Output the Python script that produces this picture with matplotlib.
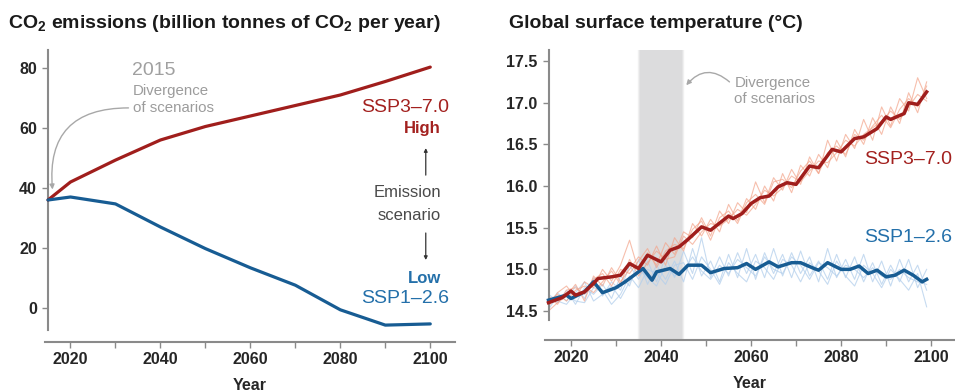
import matplotlib
matplotlib.use("Agg")
import matplotlib.pyplot as plt

plt.rcParams['font.family'] = ['Liberation Sans', 'DejaVu Sans']
plt.rcParams['mathtext.fontset'] = 'custom'
plt.rcParams['mathtext.rm'] = 'Liberation Sans'
plt.rcParams['mathtext.bf'] = 'Liberation Sans:bold'

# ---------------- data: CO2 emissions ----------------
co2_years = [2015, 2020, 2030, 2040, 2050, 2060, 2070, 2080, 2090, 2100]
co2_high = [36.0, 42.0, 49.3, 56.0, 60.5, 64.0, 67.5, 71.0, 75.5, 80.3]
co2_low = [36.0, 37.0, 34.7, 27.0, 19.8, 13.4, 7.6, -0.6, -5.7, -5.3]

# ---------------- data: temperature (thick ensemble means) ----------------
t_high_years = [2015, 2018, 2020, 2021, 2023, 2025, 2026, 2029, 2031, 2033, 2035,
                2037, 2040, 2042, 2044, 2046, 2049, 2051, 2055, 2056, 2058, 2060,
                2062, 2064, 2066, 2068, 2070, 2073, 2075, 2078, 2080, 2083, 2085,
                2088, 2090, 2091, 2094, 2095, 2097, 2099]
t_high = [14.60, 14.66, 14.74, 14.69, 14.73, 14.83, 14.89, 14.91, 14.93, 15.07, 15.01,
          15.17, 15.09, 15.23, 15.27, 15.36, 15.51, 15.47, 15.64, 15.61, 15.67, 15.79,
          15.86, 15.88, 15.99, 16.04, 16.02, 16.24, 16.22, 16.44, 16.41, 16.57, 16.59,
          16.69, 16.83, 16.80, 16.87, 17.00, 16.98, 17.13]

t_low_years = [2015, 2019, 2020, 2023, 2025, 2027, 2030, 2032, 2036, 2038, 2039,
               2042, 2044, 2046, 2049, 2051, 2054, 2057, 2059, 2061, 2064, 2066,
               2069, 2071, 2074, 2075, 2077, 2080, 2082, 2084, 2086, 2088, 2090,
               2092, 2094, 2096, 2098, 2099]
t_low = [14.63, 14.69, 14.65, 14.73, 14.85, 14.72, 14.78, 14.85, 15.01, 14.87, 14.97,
         15.01, 14.94, 15.05, 15.05, 14.96, 15.01, 15.02, 15.07, 15.00, 15.09, 15.03,
         15.08, 15.08, 15.01, 14.99, 15.08, 15.00, 15.00, 15.04, 14.95, 14.99, 14.91,
         14.93, 14.99, 14.93, 14.85, 14.88]

# ---------------- data: individual model runs (thin) ----------------
run_years = list(range(2015, 2100, 2))
high_runs = [
    [14.55, 14.72, 14.80, 14.66, 14.85, 14.78, 15.00, 14.86, 15.05, 15.35, 14.98, 15.20, 15.05, 15.32,
     15.18, 15.45, 15.38, 15.62, 15.40, 15.70, 15.55, 15.80, 15.68, 16.05, 15.80, 16.10, 15.95, 16.20,
     16.02, 16.35, 16.15, 16.55, 16.30, 16.62, 16.45, 16.80, 16.55, 16.95, 16.72, 17.05, 16.90, 17.30, 17.05],
    [14.50, 14.60, 14.68, 14.82, 14.62, 14.92, 14.80, 15.02, 14.85, 15.00, 15.15, 15.05, 15.28, 15.05,
     15.38, 15.22, 15.55, 15.40, 15.60, 15.45, 15.78, 15.58, 15.85, 15.72, 16.00, 15.82, 16.15, 15.92,
     16.25, 16.12, 16.38, 16.22, 16.55, 16.35, 16.68, 16.50, 16.82, 16.62, 16.95, 16.75, 17.12, 16.88, 17.25],
    [14.68, 14.58, 14.75, 14.78, 14.70, 14.88, 14.95, 14.80, 15.00, 14.95, 15.10, 15.25, 15.02, 15.22,
     15.30, 15.25, 15.48, 15.58, 15.35, 15.62, 15.70, 15.55, 15.80, 15.90, 15.78, 16.05, 16.08, 15.98,
     16.18, 16.30, 16.15, 16.40, 16.48, 16.38, 16.62, 16.55, 16.72, 16.85, 16.70, 16.92, 17.05, 16.95, 17.20],
    [14.62, 14.70, 14.62, 14.75, 14.80, 14.72, 14.85, 14.98, 14.82, 15.12, 14.92, 15.08, 15.22, 15.12,
     15.15, 15.40, 15.30, 15.45, 15.55, 15.52, 15.60, 15.72, 15.65, 15.78, 15.95, 15.88, 15.98, 16.12,
     16.05, 16.18, 16.30, 16.28, 16.40, 16.55, 16.48, 16.62, 16.70, 16.78, 16.90, 16.80, 16.95, 17.10, 17.02],
]
low_runs = [
    [14.58, 14.72, 14.62, 14.80, 14.65, 14.90, 14.68, 14.85, 14.75, 15.05, 14.88, 15.10, 14.85, 15.15,
     14.90, 15.22, 14.95, 15.38, 14.90, 15.15, 14.92, 15.20, 14.95, 15.18, 14.90, 15.25, 14.92, 15.20,
     14.95, 15.15, 14.85, 15.25, 14.90, 15.12, 14.88, 15.18, 14.85, 15.10, 14.80, 15.12, 14.85, 15.05, 14.75],
    [14.66, 14.60, 14.75, 14.58, 14.78, 14.70, 14.82, 14.65, 14.92, 14.80, 15.12, 14.82, 15.05, 14.88,
     15.10, 14.85, 15.25, 14.92, 15.10, 14.85, 15.18, 14.90, 15.25, 14.88, 15.20, 14.95, 15.18, 14.90,
     15.22, 14.92, 15.10, 14.88, 15.18, 14.90, 15.15, 14.85, 15.08, 14.82, 15.05, 14.85, 15.12, 14.78, 15.00],
    [14.52, 14.68, 14.70, 14.62, 14.60, 14.78, 14.75, 14.58, 14.70, 14.92, 14.78, 15.00, 14.95, 14.82,
     15.05, 15.08, 14.88, 15.15, 15.00, 14.82, 15.08, 14.95, 14.85, 15.10, 15.02, 14.88, 15.12, 15.05,
     14.85, 15.08, 14.98, 14.82, 15.10, 14.92, 14.80, 15.05, 14.95, 14.78, 15.00, 14.88, 14.75, 14.95, 14.55],
    [14.70, 14.62, 14.58, 14.72, 14.85, 14.62, 14.70, 14.80, 14.65, 14.85, 15.00, 14.90, 14.80, 15.05,
     14.92, 14.98, 15.15, 14.98, 14.88, 15.05, 14.95, 15.12, 15.02, 14.92, 15.15, 15.00, 14.95, 15.15,
     15.05, 14.88, 15.08, 15.02, 14.92, 15.05, 15.00, 14.90, 15.02, 14.92, 14.88, 15.00, 14.90, 14.85, 14.82],
]

x_ticks = [2020, 2040, 2060, 2080, 2100]
x_minor = [2030, 2050, 2070, 2090]
co2_yticks = [0, 20, 40, 60, 80]
temp_yticks = [14.5, 15.0, 15.5, 16.0, 16.5, 17.0, 17.5]
divergence_span = (2035, 2045)

RED = '#a01e1c'
BLUE = '#175c93'
RED_TXT = '#a3211f'
BLUE_TXT = '#2470aa'
RED_THIN = '#f3a48a'
BLUE_THIN = '#b3cfec'
GRAY_TXT = '#9c9c9c'
SPINE = '#8a8a8a'
TICKLAB = '#262626'
BAND = '#dcdcdd'

W, H = 955, 391
fig = plt.figure(figsize=(W / 100, H / 100), dpi=100)


def px_axes(x0, y0, x1, y1):
    return fig.add_axes([x0 / W, 1 - y1 / H, (x1 - x0) / W, (y1 - y0) / H])


def style_axes(ax, ybounds):
    for s in ['top', 'right']:
        ax.spines[s].set_visible(False)
    ax.spines['left'].set_position(('data', 2015))
    ax.spines['left'].set_bounds(*ybounds)
    for s in ['left', 'bottom']:
        ax.spines[s].set_color(SPINE)
        ax.spines[s].set_linewidth(1.5)
    ax.set_xticks(x_ticks)
    ax.set_xticks(x_minor, minor=True)
    ax.tick_params(axis='both', which='both', color=SPINE, width=1.0,
                   labelcolor=TICKLAB, labelsize=11.5)
    ax.tick_params(axis='x', which='major', length=4, pad=3)
    ax.tick_params(axis='x', which='minor', length=4)
    ax.tick_params(axis='y', length=4, pad=4)
    for lab in ax.get_xticklabels() + ax.get_yticklabels():
        lab.set_fontweight('bold')
    ax.set_xlabel('Year', fontsize=11.5, fontweight='bold', color=TICKLAB, labelpad=8)
    ax.patch.set_alpha(0)


# ---------------- left panel ----------------
ax1 = px_axes(45, 50, 455, 342)
ax1.set_xlim(2014.33, 2105.5)
ax1.set_ylim(-11.33, 86)
ax1.set_yticks(co2_yticks)
ax1.plot(co2_years, co2_high, color=RED, lw=2.3, solid_capstyle='round', zorder=3)
ax1.plot(co2_years, co2_low, color=BLUE, lw=2.3, solid_capstyle='round', zorder=3)
style_axes(ax1, (-7.3, 86))

ax1.text(2038.6, 79.3, '2015', fontsize=14, color='#a0a0a0', ha='center', va='center')
ax1.text(2033.9, 72.3, 'Divergence', fontsize=10.8, color=GRAY_TXT, ha='left', va='center')
ax1.text(2033.9, 66.7, 'of scenarios', fontsize=10.8, color=GRAY_TXT, ha='left', va='center')
ax1.annotate('', xy=(2016.0, 39.5), xytext=(2032.9, 66.7),
             arrowprops=dict(arrowstyle='-|>', color='#a8a8a8', lw=1.0,
                             mutation_scale=7, shrinkA=0, shrinkB=0,
                             connectionstyle='angle3,angleA=180,angleB=-85'))

ax1.text(2104.3, 67.0, 'SSP3–7.0', fontsize=14, color=RED_TXT, ha='right', va='center')
ax1.text(2102.4, 60.0, 'High', fontsize=12, color=RED_TXT, ha='right', va='center',
         fontweight='bold')
ax1.annotate('', xy=(2099.0, 53.3), xytext=(2099.0, 44.3),
             arrowprops=dict(arrowstyle='-|>', color='#333333', lw=0.9,
                             mutation_scale=5, shrinkA=0, shrinkB=0))
ax1.text(2102.4, 38.4, 'Emission', fontsize=12, color='#4a4a4a', ha='right', va='center')
ax1.text(2102.4, 31.0, 'scenario', fontsize=12, color='#4a4a4a', ha='right', va='center')
ax1.annotate('', xy=(2099.0, 16.0), xytext=(2099.0, 25.0),
             arrowprops=dict(arrowstyle='-|>', color='#333333', lw=0.9,
                             mutation_scale=5, shrinkA=0, shrinkB=0))
ax1.text(2102.4, 10.0, 'Low', fontsize=12, color=BLUE_TXT, ha='right', va='center',
         fontweight='bold')
ax1.text(2104.3, 3.3, 'SSP1–2.6', fontsize=14, color=BLUE_TXT, ha='right', va='center')

fig.text(8 / W, 1 - 23 / H,
         r'CO$_\mathbf{2}$ emissions (billion tonnes of CO$_\mathbf{2}$ per year)',
         fontsize=14, fontweight='bold', color='#1a1a1a', ha='left', va='center')

# ---------------- right panel ----------------
ax2 = px_axes(545, 50, 955, 340)
ax2.set_xlim(2014.22, 2105.3)
ax2.set_ylim(14.152, 17.633)
ax2.set_yticks(temp_yticks)
ax2.set_yticklabels([f'{v:.1f}' for v in temp_yticks])

# soft-edged grey divergence band
ax2.axvspan(divergence_span[0] + 0.35, divergence_span[1] - 0.35, color=BAND, lw=0, zorder=0)
for i in range(6):
    k = 0.35 + 0.1 * i
    ax2.axvspan(divergence_span[0] + 0.35 - 0.1 * (i + 1), divergence_span[0] + 0.35 - 0.1 * i,
                color=BAND, alpha=1 - (i + 0.5) / 6, lw=0, zorder=0)
    ax2.axvspan(divergence_span[1] - 0.35 + 0.1 * i, divergence_span[1] - 0.35 + 0.1 * (i + 1),
                color=BAND, alpha=1 - (i + 0.5) / 6, lw=0, zorder=0)

for run in low_runs:
    ax2.plot(run_years, run, color=BLUE_THIN, lw=0.8, alpha=0.75, zorder=1)
for run in high_runs:
    ax2.plot(run_years, run, color=RED_THIN, lw=0.8, alpha=0.7, zorder=1)
ax2.plot(t_low_years, t_low, color=BLUE, lw=2.5, solid_joinstyle='round', zorder=3)
ax2.plot(t_high_years, t_high, color=RED, lw=2.5, solid_joinstyle='round', zorder=4)
style_axes(ax2, (14.392, 17.633))

ax2.text(2056.3, 17.24, 'Divergence', fontsize=10.8, color=GRAY_TXT, ha='left', va='center')
ax2.text(2056.3, 17.05, 'of scenarios', fontsize=10.8, color=GRAY_TXT, ha='left', va='center')
ax2.annotate('', xy=(2045.6, 17.21), xytext=(2055.2, 17.25),
             arrowprops=dict(arrowstyle='-|>', color='#a8a8a8', lw=1.0,
                             mutation_scale=7, shrinkA=0, shrinkB=0,
                             connectionstyle='arc3,rad=0.5'))
ax2.text(2085.2, 16.32, 'SSP3–7.0', fontsize=14, color=RED_TXT, ha='left', va='center')
ax2.text(2085.2, 15.38, 'SSP1–2.6', fontsize=14, color=BLUE_TXT, ha='left', va='center')

fig.text(509 / W, 1 - 23 / H, 'Global surface temperature (°C)',
         fontsize=14, fontweight='bold', color='#1a1a1a', ha='left', va='center')

fig.savefig('out.png', dpi=100)
